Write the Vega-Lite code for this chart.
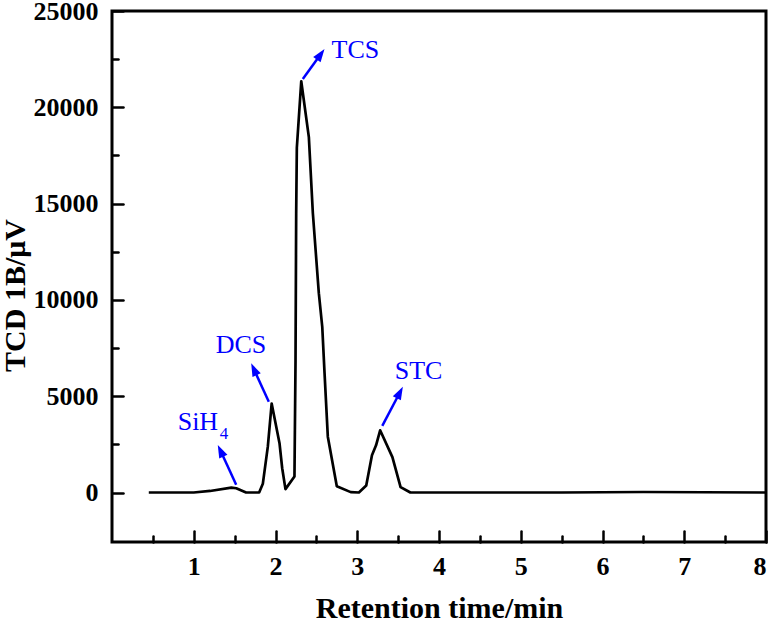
{
  "$schema": "https://vega.github.io/schema/vega-lite/v6.json",
  "autosize": "none",
  "width": 654,
  "height": 531,
  "padding": {"left": 112, "top": 11, "right": 7, "bottom": 81},
  "background": "white",
  "config": {
    "view": {"stroke": "black", "strokeWidth": 3},
    "axis": {
      "grid": false,
      "domain": false,
      "labelFont": "Liberation Serif",
      "labelFontWeight": "bold",
      "labelFontSize": 26,
      "labelColor": "black",
      "labelOverlap": false,
      "titleFont": "Liberation Serif",
      "titleFontWeight": "bold",
      "titleFontSize": 30,
      "titleColor": "black",
      "tickColor": "black",
      "tickWidth": 2.5,
      "tickCap": "round"
    }
  },
  "resolve": {"axis": {"x": "independent", "y": "independent"}},
  "datasets": {
    "trace": [
      {"t": 0.45, "v": 0},
      {"t": 1.0, "v": 0},
      {"t": 1.2, "v": 80},
      {"t": 1.46, "v": 250},
      {"t": 1.52, "v": 220},
      {"t": 1.64, "v": 0},
      {"t": 1.8, "v": 0},
      {"t": 1.845, "v": 450},
      {"t": 1.906, "v": 2380},
      {"t": 1.953, "v": 4620},
      {"t": 2.049, "v": 2560},
      {"t": 2.082, "v": 1260},
      {"t": 2.122, "v": 175},
      {"t": 2.232, "v": 830},
      {"t": 2.245, "v": 6850},
      {"t": 2.253, "v": 14500},
      {"t": 2.261, "v": 17900},
      {"t": 2.315, "v": 21350},
      {"t": 2.408, "v": 18450},
      {"t": 2.457, "v": 14500},
      {"t": 2.53, "v": 10350},
      {"t": 2.572, "v": 8600},
      {"t": 2.6, "v": 6200},
      {"t": 2.64, "v": 2900},
      {"t": 2.75, "v": 330},
      {"t": 2.92, "v": 20},
      {"t": 3.02, "v": 0},
      {"t": 3.11, "v": 360},
      {"t": 3.18, "v": 1930},
      {"t": 3.23, "v": 2450},
      {"t": 3.28, "v": 3230},
      {"t": 3.43, "v": 1840},
      {"t": 3.53, "v": 280},
      {"t": 3.65, "v": 0},
      {"t": 5.5, "v": 0},
      {"t": 6.5, "v": 25},
      {"t": 8.0, "v": 0}
    ],
    "arrows": [
      {"name": "SiH4", "t1": 1.519, "v1": 399, "t2": 1.328, "v2": 2166},
      {"name": "DCS", "t1": 1.918, "v1": 4715, "t2": 1.736, "v2": 6399},
      {"name": "TCS", "t1": 2.334, "v1": 21472, "t2": 2.553, "v2": 22751},
      {"name": "STC", "t1": 3.306, "v1": 3456, "t2": 3.521, "v2": 5192}
    ],
    "labels": [
      {"text": "SiH", "t": 1.051, "v": 3244},
      {"text": "DCS", "t": 1.578, "v": 7238},
      {"text": "TCS", "t": 2.977, "v": 22560},
      {"text": "STC", "t": 3.75, "v": 5870}
    ],
    "subs": [
      {"text": "4", "t": 1.37, "v": 2767}
    ]
  },
  "layer": [
    {
      "data": {"name": "trace"},
      "mark": {"type": "line", "color": "black", "strokeWidth": 2.7, "strokeJoin": "round", "clip": true},
      "encoding": {
        "x": {
          "field": "t", "type": "quantitative",
          "scale": {"domain": [0, 8], "nice": false, "zero": false},
          "axis": {
            "orient": "bottom",
            "title": "Retention time/min",
            "values": [1, 2, 3, 4, 5, 6, 7, 8],
            "format": "d",
            "tickSize": -11,
            "labelPadding": 22,
            "titlePadding": 14
          }
        },
        "y": {
          "field": "v", "type": "quantitative",
          "scale": {"domain": [-2570, 25000], "nice": false, "zero": false},
          "axis": {
            "orient": "left",
            "title": "TCD 1B/μV",
            "values": [0, 5000, 10000, 15000, 20000, 25000],
            "format": "d",
            "tickSize": -11,
            "labelPadding": 25,
            "titleX": -97,
            "titleY": 284,
            "titleAngle": 270,
            "titleAlign": "center",
            "titleBaseline": "middle",
            "titleFontSize": 30
          }
        }
      }
    },
    {
      "data": {"name": "trace"},
      "mark": {"type": "line", "opacity": 0, "strokeWidth": 0},
      "encoding": {
        "x": {
          "field": "t", "type": "quantitative",
          "axis": {
            "orient": "bottom",
            "title": null,
            "labels": false,
            "values": [0.5, 1.5, 2.5, 3.5, 4.5, 5.5, 6.5, 7.5],
            "tickSize": -6
          }
        },
        "y": {
          "field": "v", "type": "quantitative",
          "axis": {
            "orient": "left",
            "title": null,
            "labels": false,
            "values": [2500, 7500, 12500, 17500, 22500],
            "tickSize": -6
          }
        }
      }
    },
    {
      "data": {"name": "arrows"},
      "mark": {"type": "rule", "color": "#0000FF", "strokeWidth": 2.5},
      "encoding": {
        "x": {"field": "t1", "type": "quantitative", "axis": null},
        "y": {"field": "v1", "type": "quantitative", "axis": null},
        "x2": {"field": "t2"},
        "y2": {"field": "v2"}
      }
    },
    {
      "data": {"name": "arrows"},
      "transform": [{"filter": "datum.name === 'SiH4'"}],
      "mark": {"type": "point", "shape": "M0,-1L0.7,1L-0.7,1Z", "filled": true, "color": "#0000FF", "opacity": 1, "size": 169, "angle": 334.7},
      "encoding": {"x": {"field": "t2", "type": "quantitative", "axis": null}, "y": {"field": "v2", "type": "quantitative", "axis": null}}
    },
    {
      "data": {"name": "arrows"},
      "transform": [{"filter": "datum.name === 'DCS'"}],
      "mark": {"type": "point", "shape": "M0,-1L0.7,1L-0.7,1Z", "filled": true, "color": "#0000FF", "opacity": 1, "size": 169, "angle": 335.4},
      "encoding": {"x": {"field": "t2", "type": "quantitative", "axis": null}, "y": {"field": "v2", "type": "quantitative", "axis": null}}
    },
    {
      "data": {"name": "arrows"},
      "transform": [{"filter": "datum.name === 'TCS'"}],
      "mark": {"type": "point", "shape": "M0,-1L0.7,1L-0.7,1Z", "filled": true, "color": "#0000FF", "opacity": 1, "size": 169, "angle": 35.9},
      "encoding": {"x": {"field": "t2", "type": "quantitative", "axis": null}, "y": {"field": "v2", "type": "quantitative", "axis": null}}
    },
    {
      "data": {"name": "arrows"},
      "transform": [{"filter": "datum.name === 'STC'"}],
      "mark": {"type": "point", "shape": "M0,-1L0.7,1L-0.7,1Z", "filled": true, "color": "#0000FF", "opacity": 1, "size": 169, "angle": 27.6},
      "encoding": {"x": {"field": "t2", "type": "quantitative", "axis": null}, "y": {"field": "v2", "type": "quantitative", "axis": null}}
    },
    {
      "data": {"name": "labels"},
      "mark": {"type": "text", "font": "Liberation Serif", "fontSize": 26, "color": "#0000FF", "align": "center", "baseline": "alphabetic"},
      "encoding": {
        "x": {"field": "t", "type": "quantitative", "axis": null},
        "y": {"field": "v", "type": "quantitative", "axis": null},
        "text": {"field": "text"}
      }
    },
    {
      "data": {"name": "subs"},
      "mark": {"type": "text", "font": "Liberation Serif", "fontSize": 17, "color": "#0000FF", "align": "center", "baseline": "alphabetic"},
      "encoding": {
        "x": {"field": "t", "type": "quantitative", "axis": null},
        "y": {"field": "v", "type": "quantitative", "axis": null},
        "text": {"field": "text"}
      }
    }
  ]
}
